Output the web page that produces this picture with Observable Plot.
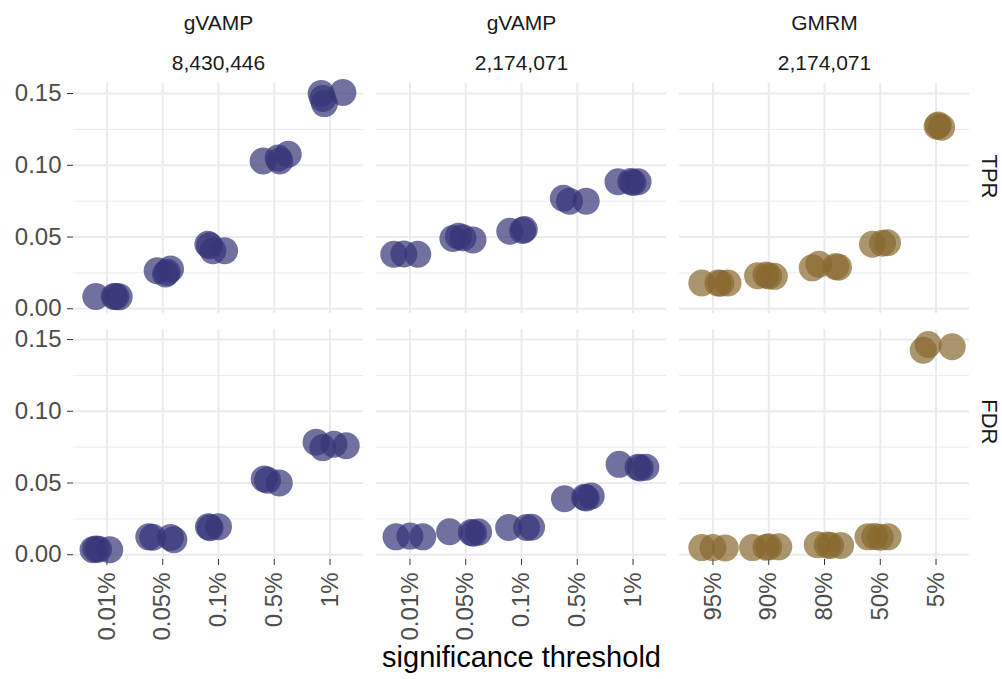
<!DOCTYPE html>
<html>
<head>
<meta charset="utf-8">
<script src="https://cdn.jsdelivr.net/npm/d3@7"></script>
<script src="https://cdn.jsdelivr.net/npm/@observablehq/plot@0.6"></script>
<style>
  html, body { margin: 0; padding: 0; background: #ffffff; }
  #chart svg { display: block; }
</style>
</head>
<body>
<div id="chart"></div>
<script>
// ---- categories / labels ----
const columnKeys = ["gVAMP 8,430,446", "gVAMP 2,174,071", "GMRM 2,174,071"];
const methodLabels = ["gVAMP", "gVAMP", "GMRM"];
const sizeLabels = ["8,430,446", "2,174,071", "2,174,071"];
const metrics = ["TPR", "FDR"];
const gvampThresholds = ["0.01%", "0.05%", "0.1%", "0.5%", "1%"];
const gmrmThresholds = ["95%", "90%", "80%", "50%", "5%"];
const yTicks = [0, 0.05, 0.10, 0.15];
const yMinor = [0.025, 0.075, 0.125];
const xTicks = [1, 2, 3, 4, 5];

// ---- series values: [threshold index, horizontal jitter, value] ----
const tprGvamp8M = [
  [1, -0.20, 0.0085], [1, 0.13, 0.0086], [1, 0.16, 0.0085], [1, 0.22, 0.0083],
  [2, -0.10, 0.0265], [2, 0.05, 0.0242], [2, 0.14, 0.0277], [2, 0.08, 0.0255],
  [3, -0.19, 0.0450], [3, -0.10, 0.0404], [3, 0.11, 0.0404], [3, -0.16, 0.0440],
  [4, -0.20, 0.1030], [4, 0.07, 0.1050], [4, 0.25, 0.1077], [4, 0.10, 0.1030],
  [5, -0.16, 0.1500], [5, -0.10, 0.1430], [5, 0.23, 0.1507], [5, -0.13, 0.1465]
];
const fdrGvamp8M = [
  [1, -0.25, 0.0035], [1, -0.20, 0.0040], [1, 0.05, 0.0035], [1, -0.15, 0.0038],
  [2, -0.25, 0.0125], [2, 0.14, 0.0120], [2, 0.20, 0.0105], [2, -0.18, 0.0122],
  [3, -0.18, 0.0195], [3, 0.00, 0.0195], [3, -0.15, 0.0188],
  [4, -0.18, 0.0528], [4, 0.09, 0.0500], [4, -0.12, 0.0520],
  [5, -0.25, 0.0785], [5, -0.13, 0.0747], [5, 0.07, 0.0770], [5, 0.29, 0.0760]
];
const tprGvamp2M = [
  [1, -0.29, 0.0380], [1, -0.11, 0.0382], [1, 0.14, 0.0380],
  [2, -0.23, 0.0490], [2, -0.13, 0.0505], [2, 0.13, 0.0480], [2, -0.05, 0.0495],
  [3, -0.21, 0.0540], [3, 0.05, 0.0552], [3, 0.02, 0.0545],
  [4, -0.25, 0.0770], [4, -0.14, 0.0750], [4, 0.16, 0.0750],
  [5, -0.27, 0.0885], [5, -0.04, 0.0887], [5, 0.09, 0.0885], [5, 0.00, 0.0880]
];
const fdrGvamp2M = [
  [1, -0.25, 0.0125], [1, 0.00, 0.0130], [1, 0.23, 0.0125],
  [2, -0.29, 0.0160], [2, 0.14, 0.0150], [2, 0.23, 0.0158], [2, 0.10, 0.0155],
  [3, -0.23, 0.0190], [3, 0.09, 0.0190], [3, 0.18, 0.0192],
  [4, -0.23, 0.0390], [4, 0.13, 0.0400], [4, 0.25, 0.0410], [4, 0.16, 0.0395],
  [5, -0.25, 0.0630], [5, 0.09, 0.0610], [5, 0.23, 0.0610], [5, 0.13, 0.0605]
];
const tprGmrm2M = [
  [1, -0.20, 0.0180], [1, 0.09, 0.0180], [1, 0.27, 0.0180], [1, 0.14, 0.0178],
  [2, -0.20, 0.0230], [2, 0.00, 0.0228], [2, 0.10, 0.0226], [2, -0.05, 0.0235],
  [3, -0.22, 0.0285], [3, -0.10, 0.0310], [3, 0.25, 0.0290], [3, 0.20, 0.0295],
  [4, -0.14, 0.0450], [4, 0.04, 0.0457], [4, 0.13, 0.0460],
  [5, 0.04, 0.1280], [5, 0.10, 0.1265], [5, 0.02, 0.1272]
];
const fdrGmrm2M = [
  [1, -0.20, 0.0050], [1, 0.00, 0.0050], [1, 0.22, 0.0048],
  [2, -0.29, 0.0050], [2, 0.00, 0.0055], [2, 0.18, 0.0055], [2, -0.05, 0.0052],
  [3, -0.13, 0.0070], [3, 0.11, 0.0065], [3, 0.29, 0.0065], [3, 0.05, 0.0068],
  [4, -0.22, 0.0125], [4, 0.14, 0.0125], [4, -0.10, 0.0127], [4, 0.00, 0.0122],
  [5, -0.14, 0.1465], [5, -0.23, 0.1425], [5, 0.29, 0.1450]
];

// ---- build table ----
const seriesTable = [
  [columnKeys[0], "TPR", "gVAMP", tprGvamp8M],
  [columnKeys[0], "FDR", "gVAMP", fdrGvamp8M],
  [columnKeys[1], "TPR", "gVAMP", tprGvamp2M],
  [columnKeys[1], "FDR", "gVAMP", fdrGvamp2M],
  [columnKeys[2], "TPR", "GMRM", tprGmrm2M],
  [columnKeys[2], "FDR", "GMRM", fdrGmrm2M]
];
const points = seriesTable.flatMap(([col, metric, method, arr]) =>
  arr.map(([i, j, v]) => ({col, metric, method, x: i + j, v})));

const stripData = columnKeys.map((k, i) => ({key: k, method: methodLabels[i], size: sizeLabels[i]}));
const xLabelData = columnKeys.flatMap((k, ci) =>
  (methodLabels[ci] === "GMRM" ? gmrmThresholds : gvampThresholds).map((lab, i) => ({key: k, i: i + 1, label: lab})));

const FONT = "'Liberation Sans', Arial, Helvetica, sans-serif";

const chart = Plot.plot({
  width: 1002,
  height: 679,
  marginLeft: 73,
  marginRight: 33,
  marginTop: 82,
  marginBottom: 119,
  style: {fontFamily: FONT, background: "#ffffff", overflow: "visible"},
  fx: {domain: columnKeys, paddingInner: 0.044, paddingOuter: 0, axis: null, label: null},
  fy: {domain: metrics, paddingInner: 0.0636, paddingOuter: 0, axis: null, label: null},
  x: {domain: [0.4, 5.6], axis: null},
  y: {domain: [-0.0033, 0.157], axis: null},
  color: {domain: ["gVAMP", "GMRM"], range: ["#353577", "#88682d"]},
  facet: {marginTop: 0, marginRight: 0, marginBottom: 0, marginLeft: 0},
  marks: [
    // grid
    Plot.ruleY(yMinor, {stroke: "#ebebeb", strokeWidth: 1}),
    Plot.ruleY(yTicks, {stroke: "#ebebeb", strokeWidth: 2}),
    Plot.ruleX(xTicks, {stroke: "#ebebeb", strokeWidth: 2}),
    // axes
    Plot.axisY({ticks: yTicks, tickFormat: d3.format(".2f"), tickSize: 6, tickPadding: 6,
      fontSize: 24, color: "#4d4d4d", stroke: "#333333", label: null}),
    Plot.axisX({ticks: xTicks, tickFormat: () => "", tickSize: 6, stroke: "#333333", label: null}),
    // points
    Plot.dot(points, {x: "x", y: "v", fx: "col", fy: "metric", fill: "method",
      fillOpacity: 0.7, r: 13.5, stroke: null}),
    // x tick labels
    Plot.text(xLabelData, {x: "i", fx: "key", fy: () => "FDR", text: "label",
      frameAnchor: "bottom", lineAnchor: "middle", rotate: -90, textAnchor: "end", dy: 13,
      fontSize: 24, fill: "#4d4d4d"}),
    // strip labels (top)
    Plot.text(stripData, {fx: "key", fy: () => "TPR", text: "method", frameAnchor: "top",
      lineAnchor: "middle", dy: -60.4, fontSize: 21, fill: "#1a1a1a"}),
    Plot.text(stripData, {fx: "key", fy: () => "TPR", text: "size", frameAnchor: "top",
      lineAnchor: "middle", dy: -20.4, fontSize: 21, fill: "#1a1a1a"}),
    // strip labels (right)
    Plot.text(metrics, {fx: () => columnKeys[2], fy: d => d, text: d => d, frameAnchor: "right",
      lineAnchor: "middle", dx: 19.5, rotate: 90, fontSize: 22, fill: "#1a1a1a"}),
    // axis title
    Plot.text(["significance threshold"], {fx: () => columnKeys[1], fy: () => "FDR", text: d => d,
      frameAnchor: "bottom", lineAnchor: "middle", dy: 98.7, fontSize: 29, fill: "#000000"})
  ]
});

document.getElementById("chart").appendChild(chart);
</script>
</body>
</html>
